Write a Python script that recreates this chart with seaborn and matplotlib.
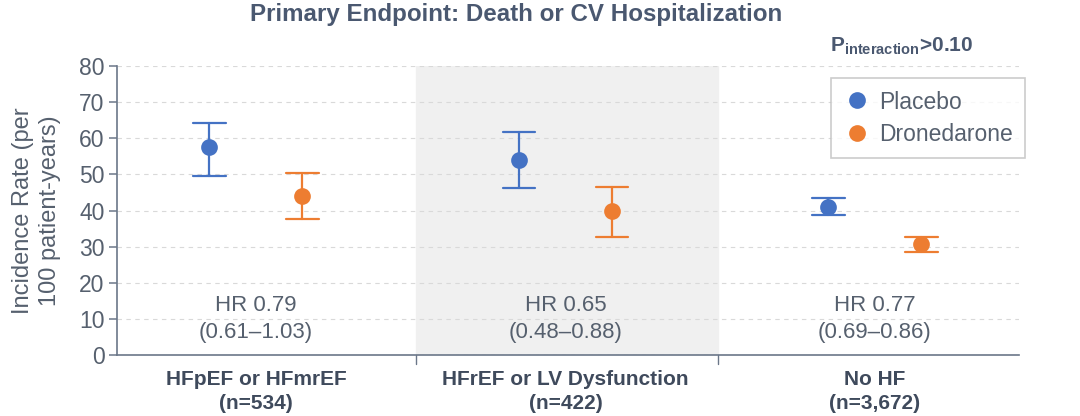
import pandas as pd
import matplotlib.pyplot as plt
import seaborn as sns
from matplotlib import font_manager

# Values
groups = ['HFpEF or HFmrEF\n(n=534)', 'HFrEF or LV Dysfunction\n(n=422)', 'No HF\n(n=3,672)']
arms = ['Placebo', 'Dronedarone']
placebo_rate = [57.5, 54.0, 41.0]
placebo_lo = [49.5, 46.2, 38.8]
placebo_hi = [64.2, 61.8, 43.6]
drone_rate = [44.0, 40.0, 30.6]
drone_lo = [37.6, 32.8, 28.6]
drone_hi = [50.5, 46.6, 32.8]
hr_labels = ['HR 0.79\n(0.61\u20131.03)', 'HR 0.65\n(0.48\u20130.88)', 'HR 0.77\n(0.69\u20130.86)']

# Long table: each point is stored as (lower, rate, upper); median gives the rate
# and the 0-100 percentile interval gives the CI
rows = []
for arm, rate, lo, hi in [('Placebo', placebo_rate, placebo_lo, placebo_hi),
                          ('Dronedarone', drone_rate, drone_lo, drone_hi)]:
    for g, r, l, h in zip(groups, rate, lo, hi):
        for v in (l, r, h):
            rows.append({'group': g, 'arm': arm, 'value': v})
df = pd.DataFrame(rows)

sns.set_style('white')
plt.rcParams['font.family'] = ['Liberation Sans', 'DejaVu Sans']
plt.rcParams['mathtext.fontset'] = 'custom'
plt.rcParams['mathtext.bf'] = 'Liberation Sans:bold'
plt.rcParams['mathtext.rm'] = 'Liberation Sans'

installed = {f.name for f in font_manager.fontManager.ttflist}
if 'Liberation Sans Narrow' in installed:
    xfont, xsize = 'Liberation Sans Narrow', 17
else:
    xfont, xsize = 'Liberation Sans', 15

text_col = '#56606e'
axis_col = '#6b7789'
title_col = '#4a5870'
colors = {'Placebo': '#4472c4', 'Dronedarone': '#ed7d31'}

fig = plt.figure(figsize=(10.8, 4.16), dpi=100)
ax = fig.add_axes([0.1083, 0.1466, 0.835, 0.6946])

ax.axvspan(0.517, 1.493, color='#f0f0f0', zorder=0)

sns.pointplot(data=df, x='group', y='value', hue='arm', hue_order=arms,
              order=groups, palette=colors, estimator='median',
              errorbar=('pi', 100), dodge=0.30, linestyle='none',
              markersize=10, capsize=0.105, err_kws={'linewidth': 1.6},
              ax=ax, zorder=3)

ax.set_xlim(-0.449, 2.465)
ax.set_ylim(0, 80)
ax.set_yticks(range(0, 81, 10))
ax.yaxis.grid(True, linestyle=(0, (4, 4)), color='#d9d9d9', linewidth=0.8)
ax.set_axisbelow(True)

for s in ['top', 'right']:
    ax.spines[s].set_visible(False)
for s in ['left', 'bottom']:
    ax.spines[s].set_color(axis_col)
    ax.spines[s].set_linewidth(1.2)

ax.tick_params(axis='y', colors=axis_col, labelcolor=text_col, labelsize=16.5,
               length=6, width=1.1, left=True, pad=3)
ax.tick_params(axis='x', length=0, pad=11)
ax.set_xticks([0, 1, 2])
ax.set_xticklabels(groups, fontsize=xsize, fontweight='bold', color='#3f4a5c',
                   family=xfont, linespacing=1.3)
# separators between groups on the x axis
for xs in [0.517, 1.493]:
    ax.plot([xs, xs], [0, -2.5], color=axis_col, lw=1, clip_on=False)
ax.set_xlabel('')
ax.set_ylabel('Incidence Rate (per\n100 patient-years)', fontsize=17, color=text_col,
              labelpad=13, linespacing=1.3)

for i, lab in enumerate(hr_labels):
    ax.text(i, 10, lab, ha='center', va='center', fontsize=16, color=text_col,
            linespacing=1.35)

fig.text(516 / 1080, 1 - 14 / 416, 'Primary Endpoint: Death or CV Hospitalization',
         fontsize=17.4, fontweight='bold', color=title_col, ha='center', va='center')
fig.text(830 / 1080, 1 - 46 / 416, r'$\mathbf{P_{interaction}}$>0.10', fontsize=15,
         fontweight='bold', color=title_col, va='center')

leg = ax.legend(loc='upper right', bbox_to_anchor=(1.007, 0.959), fontsize=16.5,
                frameon=True, fancybox=False, handletextpad=0.35,
                borderpad=0.55, labelspacing=0.4, handlelength=1.2,
                borderaxespad=0)
leg.get_frame().set_edgecolor('#bfbfbf')
leg.get_frame().set_linewidth(1.2)
for t in leg.get_texts():
    t.set_color(text_col)

fig.savefig('out.png', dpi=100)
